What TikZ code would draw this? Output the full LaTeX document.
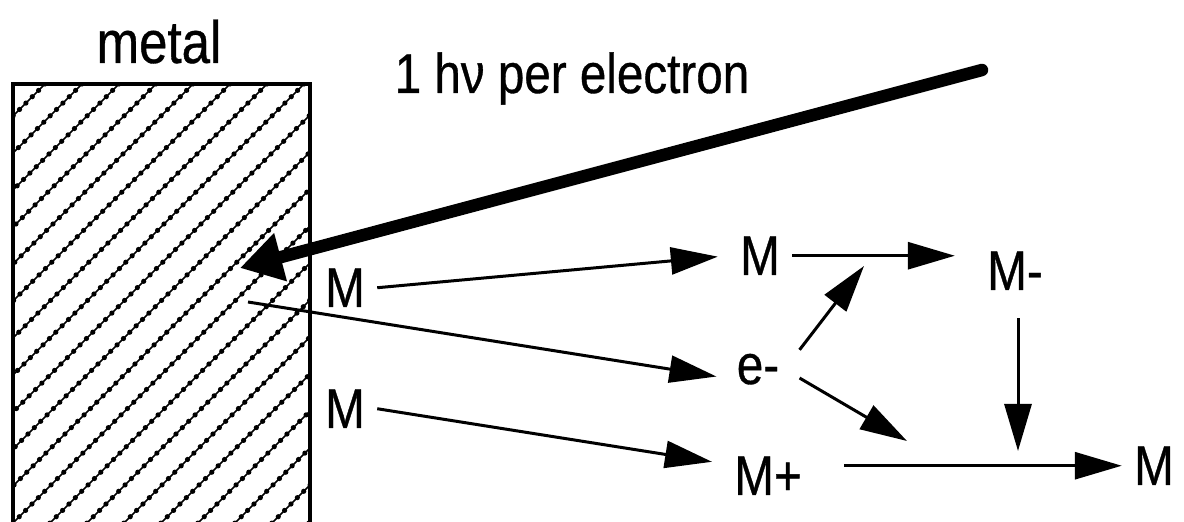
\documentclass[tikz,border=0pt]{standalone}
\usepackage{fontspec}
\setmainfont{Liberation Sans}[FakeStretch=0.85,FakeBold=0.6]
\usetikzlibrary{arrows.meta}
\tikzset{
    hatch/.style={line width=0.8pt, preaction={draw, line width=2.6pt, line cap=round, dash pattern=on 0pt off 4.5pt}},
    lbl/.style={font=\fontsize{28}{32}\selectfont, inner sep=6pt},
    flow/.style={line width=1.5pt, -{Triangle[length=23.5pt,width=13.5pt]}},
    ray/.style={line width=6.25pt, line cap=round, -{Triangle[length=21pt,width=23.5pt]}}
}
\begin{document}
\begin{tikzpicture}[x=0.5pt,y=-0.5pt]
        \useasboundingbox (0,0) rectangle (1184,522);
        \begin{scope}
            \clip (13,84) rectangle (310,540);
            \foreach \c in {92,129,...,880}
                \draw [hatch] (\c-84,84) -- ++(-600,600);
        \end{scope}
        \draw [line width=1.6pt] (13,540) -- (13,84) -- (310,84) -- (310,540);
        \node [lbl, font=\fontsize{30}{34}\selectfont, anchor=base] (metal) at (159,63) {metal};

        \node [lbl, anchor=base] (photon) at (572,93) {1 hν per electron};
        \coordinate (src) at (982,70);
        \coordinate (tip) at (240,268);
        \draw [ray] (src) -- (tip);

        \node [lbl, anchor=base] (m1) at (345,307) {M};
        \node [lbl, anchor=base] (m3) at (345,428) {M};
        \node [lbl, anchor=base] (m2) at (760,275) {M};
        \node [lbl, anchor=base] (mminus) at (1015,290) {M-};
        \node [lbl, anchor=base, inner xsep=10pt] (e) at (758,384) {e-};
        \node [lbl, anchor=base] (mplus) at (768,495) {M+};
        \node [lbl, anchor=base] (mend) at (1154,485) {M};
        \coordinate (hit) at (248,302);
        \coordinate (eup) at (864,266);
        \coordinate (edown) at (907,441);
        \coordinate (mdown) at (1018,451);

        \draw [flow, shorten >=5pt] (m1.east) -- (m2.west);
        \draw [flow] (hit) -- (e.190);
        \draw [flow, shorten >=5pt] (m3.east) -- (mplus.165);
        \draw [flow, shorten >=10pt] (m2.east) -- (m2.east -| mminus.west);
        \draw [flow] (e.25) -- (eup);
        \draw [flow] (e.-12) -- (edown);
        \draw [flow, shorten <=8pt] (mminus.south -| mdown) -- (mdown);
        \draw [flow, shorten <=15pt] (mplus.east |- mend.west) -- (mend.west);
\end{tikzpicture}
\end{document}
